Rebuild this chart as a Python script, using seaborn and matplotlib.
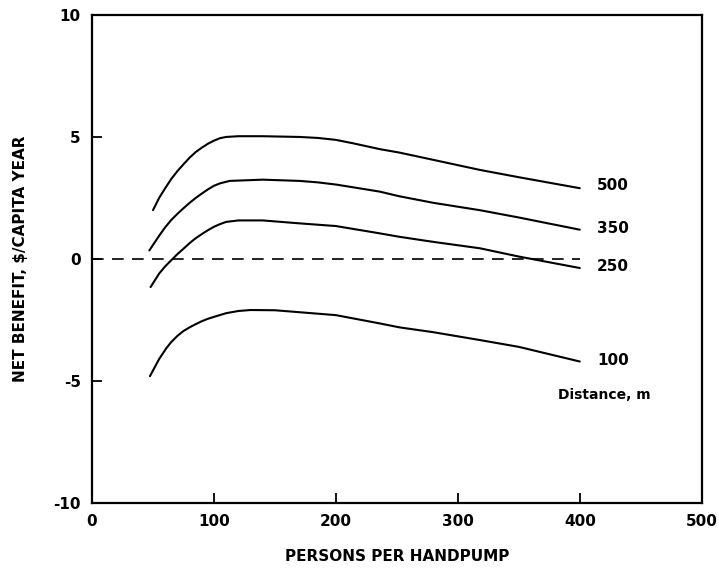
import matplotlib
matplotlib.use("Agg")
import matplotlib.pyplot as plt
import seaborn as sns
import pandas as pd

# Data
x_500 = [50, 55, 60, 65, 70, 75, 80, 85, 90, 95, 100, 105, 110, 120, 140, 170, 185, 200, 215, 236, 252, 280, 318, 350, 400]
y_500 = [2.0, 2.5, 2.9, 3.28, 3.6, 3.88, 4.15, 4.38, 4.56, 4.72, 4.85, 4.95, 5.0, 5.03, 5.03, 5.0, 4.96, 4.88, 4.73, 4.5, 4.36, 4.06, 3.65, 3.35, 2.9]

x_350 = [47, 55, 60, 65, 70, 75, 80, 85, 90, 95, 100, 105, 113, 140, 170, 185, 200, 215, 236, 252, 280, 318, 350, 400]
y_350 = [0.35, 0.95, 1.3, 1.6, 1.85, 2.08, 2.3, 2.5, 2.68, 2.85, 3.0, 3.1, 3.2, 3.25, 3.2, 3.14, 3.05, 2.93, 2.76, 2.57, 2.3, 2.0, 1.7, 1.2]

x_250 = [48, 55, 60, 64, 70, 75, 80, 85, 90, 95, 100, 105, 110, 120, 140, 170, 200, 236, 252, 280, 318, 350, 400]
y_250 = [-1.15, -0.6, -0.3, -0.1, 0.2, 0.42, 0.65, 0.85, 1.02, 1.18, 1.32, 1.43, 1.52, 1.58, 1.58, 1.46, 1.35, 1.05, 0.91, 0.7, 0.44, 0.1, -0.37]

x_100 = [47.5, 55, 61, 65, 70, 75, 80, 85, 90, 95, 102, 110, 120, 130, 150, 170, 200, 236, 252, 280, 318, 350, 400]
y_100 = [-4.8, -4.1, -3.65, -3.4, -3.15, -2.95, -2.8, -2.67, -2.55, -2.45, -2.34, -2.22, -2.13, -2.09, -2.1, -2.18, -2.3, -2.64, -2.8, -3.0, -3.32, -3.6, -4.2]

zero_x = [0, 400]
zero_y = [0, 0]

distance_labels = ["500", "350", "250", "100"]
label_y = [3.03, 1.23, -0.3, -4.14]

x_ticks = [0, 100, 200, 300, 400, 500]
y_ticks = [-10, -5, 0, 5, 10]

sns.set_style("ticks")
plt.rcParams['font.family'] = ['DejaVu Sans']

fig = plt.figure(figsize=(7.19, 5.73), dpi=100)
ax = fig.add_axes([0.128, 0.122, 0.848, 0.852])

series = [(x_500, y_500), (x_350, y_350), (x_250, y_250), (x_100, y_100)]
for xs, ys in series:
    df = pd.DataFrame({"x": xs, "y": ys})
    sns.lineplot(data=df, x="x", y="y", ax=ax, color="black", linewidth=1.5,
                 sort=False, estimator=None)

sns.lineplot(x=zero_x, y=zero_y, ax=ax, color="black", linewidth=1.2,
             linestyle=(0, (7, 5)), estimator=None)

for lab, ly in zip(distance_labels, label_y):
    ax.text(414, ly, lab, fontsize=11, fontweight="bold", va="center", ha="left", color="black")
ax.text(420, -5.57, "Distance, m", fontsize=10, fontweight="bold", va="center", ha="center", color="black")

ax.set_xlim(0, 500)
ax.set_ylim(-10, 10)
ax.set_xticks(x_ticks)
ax.set_yticks(y_ticks)
ax.set_xticklabels([str(v) for v in x_ticks], fontsize=11, fontweight="bold")
ax.set_yticklabels([str(v) for v in y_ticks], fontsize=11, fontweight="bold")
ax.tick_params(direction="in", length=7, width=1.3, pad=8, colors="black")
ax.set_xlabel("PERSONS PER HANDPUMP", fontsize=11, fontweight="bold", labelpad=14, color="black")
ax.set_ylabel("NET BENEFIT, $/CAPITA YEAR", fontsize=11, fontweight="bold", labelpad=18, color="black")
for sp in ax.spines.values():
    sp.set_visible(True)
    sp.set_linewidth(1.6)
    sp.set_color("black")

fig.savefig("out.png", dpi=100)
